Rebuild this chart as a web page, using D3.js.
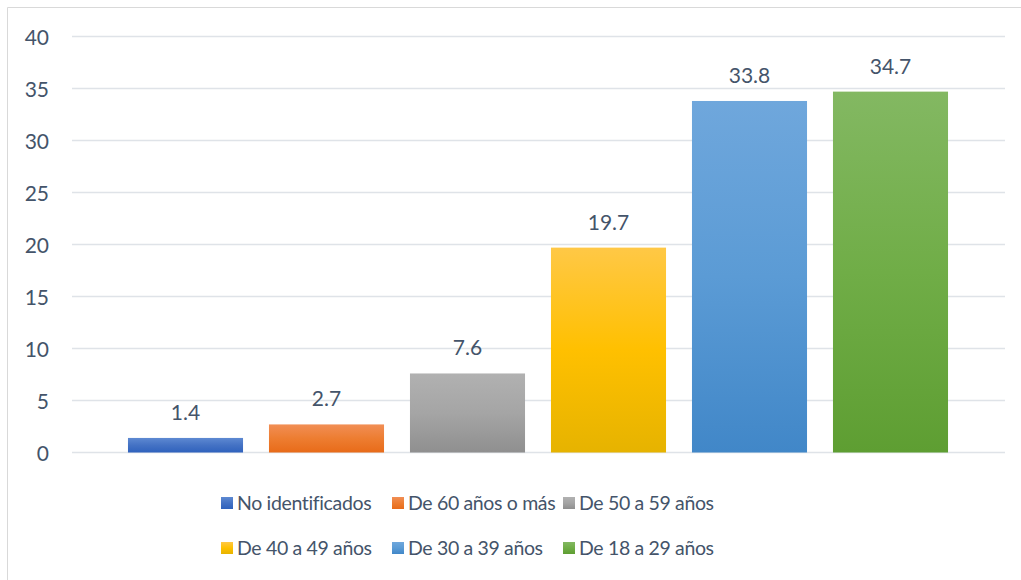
<!DOCTYPE html>
<html><head><meta charset="utf-8">
<script src="https://cdn.jsdelivr.net/npm/d3@7"></script>
<style>
html,body{margin:0;padding:0;background:#fff;}
svg{display:block;font-family:Lato,"Open Sans",sans-serif;}
</style></head>
<body>
<svg id="c" width="1021" height="580"></svg>
<script>
const categories = ["No identificados","De 60 años o más","De 50 a 59 años","De 40 a 49 años","De 30 a 39 años","De 18 a 29 años"];
const values = [1.4, 2.7, 7.6, 19.7, 33.8, 34.7];
const yTicks = [0,5,10,15,20,25,30,35,40];
const baseColors = ["#4472C4","#ED7D31","#A5A5A5","#FFC000","#5B9BD5","#70AD47"];
const topColors = ["#5D89D2","#F18E55","#B1B1B1","#FFC846","#6FA7DC","#83B862"];
const bottomColors = ["#2F62BD","#E86B19","#8F8F8F","#E6B300","#4187C8","#5E9E32"];

const svg = d3.select("#c");
const textColor = "#44546A";

// border
svg.append("path").attr("d","M7.5,580 V7.5 H1021").attr("fill","none").attr("stroke","#D9D9D9").attr("stroke-width",1);

const defs = svg.append("defs");
categories.forEach((c,i)=>{
  const g = defs.append("linearGradient").attr("id","g"+i).attr("x1",0).attr("y1",0).attr("x2",0).attr("y2",1);
  g.append("stop").attr("offset","0%").attr("stop-color",topColors[i]);
  g.append("stop").attr("offset","50%").attr("stop-color",baseColors[i]);
  g.append("stop").attr("offset","100%").attr("stop-color",bottomColors[i]);
});

const y = d3.scaleLinear().domain([0,40]).range([452.5,36.5]);
const x = d3.scaleBand().domain(categories).range([115,961]).paddingInner(0.184).paddingOuter(0.092);

// gridlines
svg.append("g").selectAll("line").data(yTicks).join("line")
  .attr("x1",72).attr("x2",1005)
  .attr("y1",d=>y(d)).attr("y2",d=>y(d))
  .attr("stroke","#DFE3E8").attr("stroke-width",1.5);

// y axis labels
const yAxis = d3.axisLeft(y).tickValues(yTicks).tickSize(0).tickPadding(0);
const ga = svg.append("g").attr("transform","translate(49,0)").call(yAxis);
ga.select(".domain").remove();
ga.selectAll("text").attr("fill",textColor).attr("font-size","21px").attr("font-family","Lato,'Open Sans',sans-serif").attr("dy","0.36em");

// bars
svg.append("g").selectAll("rect").data(values).join("rect")
  .attr("x",(d,i)=>x(categories[i]))
  .attr("width",x.bandwidth())
  .attr("y",d=>y(d))
  .attr("height",d=>y(0)-y(d))
  .attr("fill",(d,i)=>"url(#g"+i+")");

// labels
svg.append("g").selectAll("text").data(values).join("text")
  .attr("x",(d,i)=>x(categories[i])+x.bandwidth()/2)
  .attr("y",d=>y(d)-18)
  .attr("text-anchor","middle")
  .attr("fill",textColor)
  .attr("font-size","21px")
  .text(d=>d.toFixed(1));

// legend
const legX = [221, 392, 563];
const legY = [503, 548];
const leg = svg.append("g");
categories.forEach((c,i)=>{
  const col = i%3, row = Math.floor(i/3);
  const g = leg.append("g").attr("transform",`translate(${legX[col]},${legY[row]})`);
  g.append("rect").attr("x",0).attr("y",-6).attr("width",12).attr("height",12).attr("fill","url(#g"+i+")");
  g.append("text").attr("x",16).attr("y",0).attr("dy","0.36em").attr("fill",textColor)
    .attr("font-size","19.5px").attr("letter-spacing","-0.35px").text(c);
});
</script>
</body></html>
